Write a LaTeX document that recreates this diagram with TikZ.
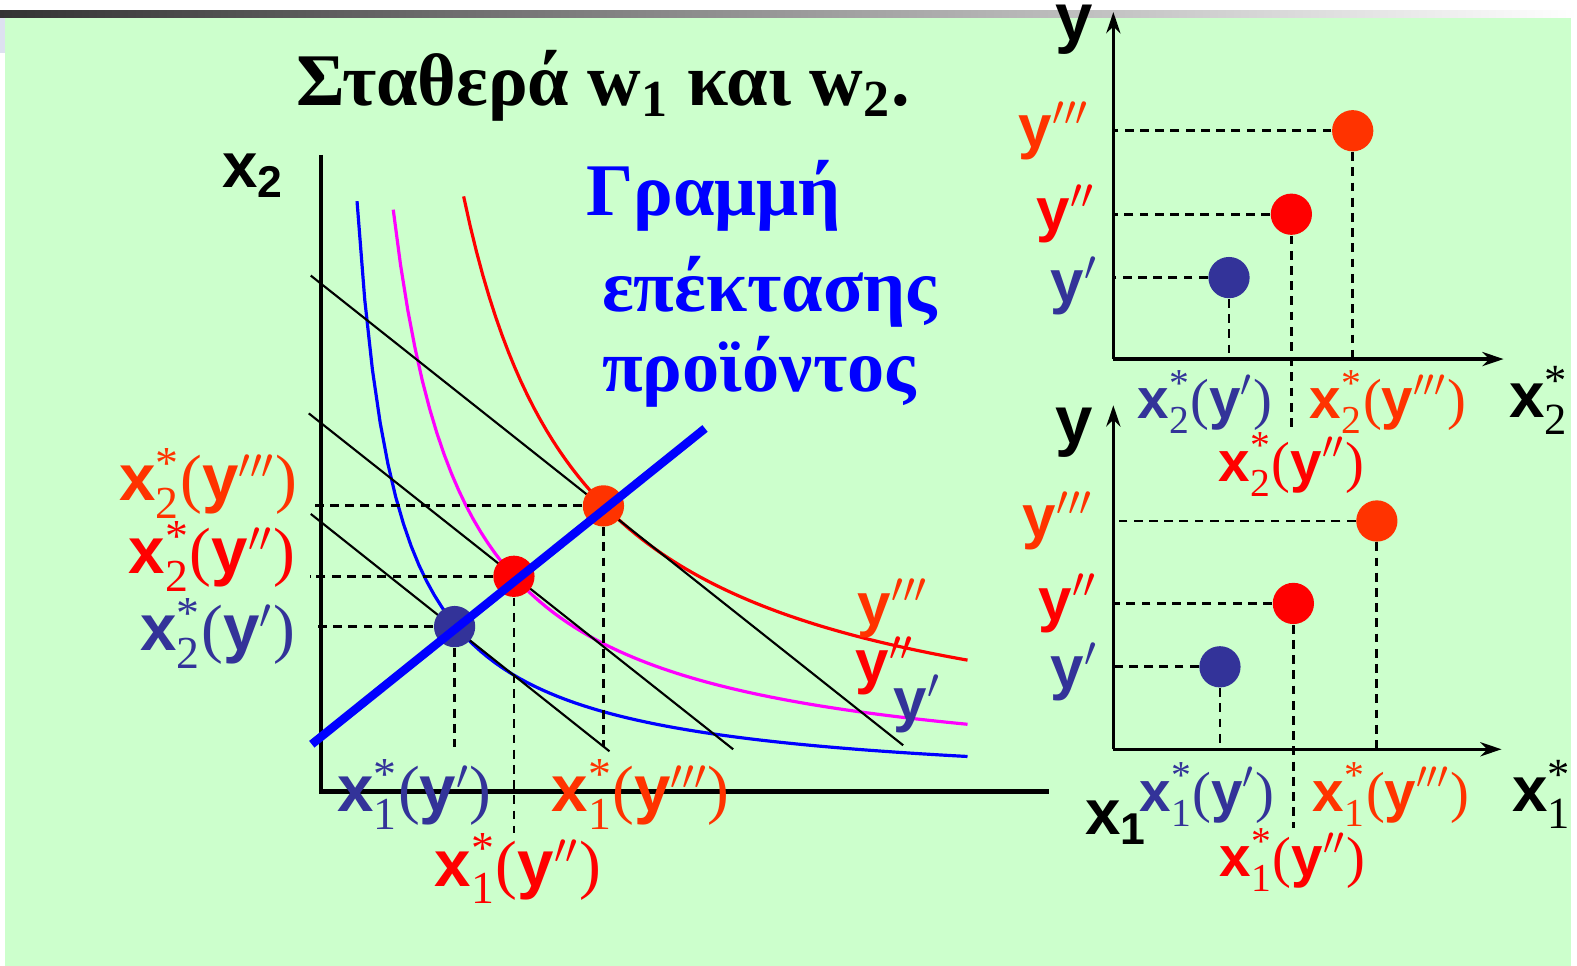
\documentclass[tikz,border=0pt]{standalone}
\usepackage{fontspec}
\usepackage{amsmath}
\setmainfont{Liberation Serif}
\setsansfont{Liberation Sans}
\usetikzlibrary{arrows.meta,positioning}

\definecolor{bggreen}{HTML}{CCFFCC}
\definecolor{navy}{HTML}{333399}
\definecolor{tomato}{HTML}{FF3300}
\definecolor{pinkish}{HTML}{FF00FF}
\definecolor{lavgray}{HTML}{DDE1F0}

\newcommand{\xv}{{\sffamily\bfseries x}}
\newcommand{\yv}{{\sffamily\bfseries y}}
\newcommand{\opt}[2]{\xv$^{\text{*}}_{\text{#1}}$(\yv$#2$)}

\begin{document}
\begin{tikzpicture}[x=0.01cm,y=-0.01cm,>={Stealth[length=6pt,width=4pt]},
  axis/.style={line width=1.2pt},
  raxis/.style={line width=0.9pt,->},
  guide/.style={line width=0.8pt,dash pattern=on 2.5pt off 1.8pt},
  budget/.style={line width=0.6pt},
  iso/.style={line width=0.9pt},
  dot/.style={circle,inner sep=0pt,minimum size=4.1mm},
  lab/.style={font=\fontsize{16}{18}\selectfont,inner sep=0pt},
  mainlab/.style={font=\fontsize{18.5}{20}\selectfont,inner sep=0pt},
  ylab/.style={font=\fontsize{17}{19}\selectfont\sffamily\bfseries,inner sep=0pt},
  axlab/.style={font=\fontsize{18}{20}\selectfont,inner sep=0pt},
  greek/.style={font=\fontsize{21}{24}\selectfont\bfseries,inner sep=0pt,text=blue}]
\useasboundingbox (0,0) rectangle (1568,960);
\fill[white] (0,0) rectangle (1568,960);
\fill[bggreen] (5,17) rectangle (1562,960);
\fill[lavgray] (0,17) rectangle (5,53);
\shade[left color=black!80,middle color=black!40,right color=white] (0,10) rectangle (1568,17);

% title
\node[font=\fontsize{21}{24}\selectfont\bfseries,inner sep=0pt] (title) at (600,85)
  {Σταθερά w$_{\text{1}}$ και w$_{\text{2}}$.};
\node[greek,anchor=west] (g1) at (582,195) {Γραμμή};
\node[greek,anchor=west] (g2) at (598,290) {επέκτασης};
\node[greek,anchor=west] (g3) at (598,370) {προϊόντος};

% main diagram
\coordinate (o) at (319,787);
\coordinate (ytop) at (319,154);
\coordinate (xend) at (1043,787);
\draw[axis] (ytop) -- (o) -- (xend);
\node[axlab] (x2) at (252,175) {\xv$_{\text{\sffamily\bfseries 2}}$};
\node[axlab] (x1) at (1110,818) {\xv$_{\text{\sffamily\bfseries 1}}$};

\draw[iso,blue] plot[domain=355:962,samples=80] (\x,{787-224.8/((\x-316.7)/100)});
\draw[iso,pinkish] plot[domain=391:962,samples=80] (\x,{781.6-393.14/((\x-322.4)/100)});
\draw[iso,red] plot[domain=461:962,samples=80] (\x,{766.8-685.82/((\x-341)/100)});

\coordinate (b1s) at (309,511); \coordinate (b1e) at (606,747);
\coordinate (b2s) at (307,411); \coordinate (b2e) at (729,745);
\coordinate (b3s) at (309,274); \coordinate (b3e) at (898,741);
\draw[budget] (b1s) -- (b1e);
\draw[budget] (b2s) -- (b2e);
\draw[budget] (b3s) -- (b3e);

\node[dot,fill=navy] (d1) at (452,623) {};
\node[dot,fill=red] (d2) at (511,573) {};
\node[dot,fill=tomato] (d3) at (600,503) {};

\node[mainlab,text=tomato,anchor=east] (l23) at (296,481) {\opt{2}{'''}};
\node[mainlab,text=red,anchor=east] (l22) at (294,553) {\opt{2}{''}};
\node[mainlab,text=navy,anchor=east] (l21) at (294,630) {\opt{2}{'}};
\node[mainlab,text=navy] (l11) at (412,790) {\opt{1}{'}};
\node[mainlab,text=tomato] (l13) at (637,790) {\opt{1}{'''}};
\node[mainlab,text=red] (l12) at (515,864) {\opt{1}{''}};

\draw[guide] (d3) -- (d3 -| 308,0);
\draw[guide] (d2) -- (d2 -| 308,0);
\draw[guide] (d1) -- (d1 -| 316,0);
\draw[guide] (d1) -- (d1 |- 0,743);
\draw[guide] (d3) -- (d3 |- 0,743);
\draw[guide] (d2) -- (d2 |- l12.north);

\coordinate (e0) at (310,740);
\coordinate (e1) at (701,426);
\draw[blue,line width=2.4pt] (e0) -- (e1);

\node[ylab,text=tomato] (c3) at (888,605) {y$'''$};
\node[ylab,text=red] (c2) at (880,662) {y$''$};
\node[ylab,text=navy] (c1) at (912,700) {y$'$};

% upper right: x2 against y
\coordinate (uo) at (1107,357);
\draw[raxis] (uo) -- (1107,12);
\draw[raxis] (uo) -- (1495,357);
\node[ylab,font=\fontsize{19}{21}\selectfont\sffamily\bfseries] (uy) at (1068,30) {y};
\node[axlab] (ux) at (1530,398) {\xv$^{\text{*}}_{\text{2}}$};
\node[dot,fill=navy] (u1) at (1222,276) {};
\node[dot,fill=red] (u2) at (1284,213) {};
\node[dot,fill=tomato] (u3) at (1345,130) {};
\node[ylab,text=tomato] (uy3) at (1048,130) {y$'''$};
\node[ylab,text=red] (uy2) at (1060,213) {y$''$};
\node[ylab,text=navy] (uy1) at (1068,284) {y$'$};
\node[lab,text=navy] (ul1) at (1198,400) {\opt{2}{'}};
\node[lab,text=tomato] (ul3) at (1380,400) {\opt{2}{'''}};
\node[lab,text=red] (ul2) at (1284,462) {\opt{2}{''}};
\foreach \p in {u1,u2,u3} \draw[guide] (\p) -- (\p -| uo);
\draw[guide] (u1) -- (u1 |- uo);
\draw[guide] (u3) -- (u3 |- uo);
\draw[guide] (u2) -- (u2 |- ul2.north);

% lower right: x1 against y
\coordinate (lo) at (1107,745);
\draw[raxis] (lo) -- (1107,403);
\draw[raxis] (lo) -- (1493,745);
\node[ylab,font=\fontsize{19}{21}\selectfont\sffamily\bfseries] (ly) at (1068,430) {y};
\node[axlab] (lx) at (1533,790) {\xv$^{\text{*}}_{\text{1}}$};
\node[dot,fill=navy] (v1) at (1213,663) {};
\node[dot,fill=red] (v2) at (1286,600) {};
\node[dot,fill=tomato] (v3) at (1369,518) {};
\node[ylab,text=tomato] (ly3) at (1052,518) {y$'''$};
\node[ylab,text=red] (ly2) at (1062,600) {y$''$};
\node[ylab,text=navy] (ly1) at (1068,668) {y$'$};
\node[lab,text=navy] (ll1) at (1200,790) {\opt{1}{'}};
\node[lab,text=tomato] (ll3) at (1383,790) {\opt{1}{'''}};
\node[lab,text=red] (ll2) at (1285,855) {\opt{1}{''}};
\foreach \p in {v1,v2,v3} \draw[guide] (\p) -- (\p -| lo);
\draw[guide] (v1) -- (v1 |- lo);
\draw[guide] (v3) -- (v3 |- lo);
\draw[guide] (v2) -- (v2 |- ll2.north);
\end{tikzpicture}
\end{document}
